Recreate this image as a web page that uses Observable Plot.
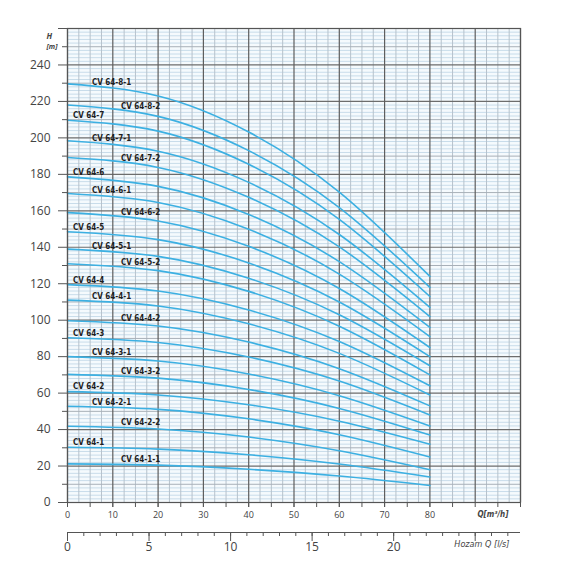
<!DOCTYPE html>
<html><head><meta charset="utf-8">
<script src="https://cdn.jsdelivr.net/npm/d3@7"></script>
<script src="https://cdn.jsdelivr.net/npm/@observablehq/plot@0.6"></script>
<style>
body{margin:0;background:#fff}
#chart{width:570px;height:570px}
</style>
</head><body><div id="chart"></div>
<script>
// Flow points (m³/h) at which heads were read
const flowPoints = [0, 20, 40, 60, 80];
const pumpNames = [
  "CV 64-8-1","CV 64-8-2","CV 64-7","CV 64-7-1","CV 64-7-2","CV 64-6","CV 64-6-1","CV 64-6-2",
  "CV 64-5","CV 64-5-1","CV 64-5-2","CV 64-4","CV 64-4-1","CV 64-4-2","CV 64-3","CV 64-3-1",
  "CV 64-3-2","CV 64-2","CV 64-2-1","CV 64-2-2","CV 64-1","CV 64-1-1"
];
// Head H (m) per pump at flowPoints
const headValues = [
  [229.6, 223.0, 203.2, 170.2, 124],
  [218.0, 211.8, 193.0, 161.8, 118],
  [209.7, 203.7, 185.5, 155.3, 113],
  [198.4, 192.7, 175.6, 147.0, 107],
  [189.2, 183.8, 167.4, 140.2, 102],
  [178.6, 173.4, 158.0, 132.1, 96],
  [169.5, 164.6, 149.9, 125.3, 91],
  [159.0, 154.4, 140.5, 117.4, 85],
  [148.5, 144.2, 131.4, 110.0, 80],
  [139.0, 135.0, 123.0, 103.0, 75],
  [131.0, 127.2, 115.8, 96.7, 70],
  [119.5, 116.0, 105.6, 88.3, 64],
  [111.0, 107.8, 98.0, 81.8, 59],
  [99.7, 96.8, 88.0, 73.4, 53],
  [90.4, 87.8, 79.8, 66.6, 48],
  [80.0, 77.6, 70.5, 58.6, 42],
  [70.3, 68.2, 62.0, 51.6, 37],
  [60.8, 59.0, 53.6, 44.6, 32],
  [52.8, 51.1, 45.9, 37.2, 25],
  [41.8, 40.3, 35.9, 28.4, 18],
  [30.3, 29.3, 26.2, 21.1, 14],
  [21.2, 20.5, 18.2, 14.5, 9.3]
];
// Tick labels
const yTickLabels = [0,20,40,60,80,100,120,140,160,180,200,220,240];
const qTickLabels = [0,10,20,30,40,50,60,70,80];
const lsTickLabels = [0,5,10,15,20];

// ---- build ----
const rows = [];
pumpNames.forEach((name, i) => flowPoints.forEach((q, j) => rows.push({pump: name, q, h: headValues[i][j]})));

const colQ = [1.2, 5.4, 11.8];
function colFor(name) {
  if (name === "CV 64-1-1") return 2;
  const parts = name.split("-");
  if (parts.length === 2) return 0;
  return parts[2] === "1" ? 1 : 2;
}
function headAt(i, q) {
  const h = headValues[i];
  for (let j = 0; j < flowPoints.length - 1; j++) {
    if (q >= flowPoints[j] && q <= flowPoints[j+1]) {
      const t = (q - flowPoints[j]) / (flowPoints[j+1] - flowPoints[j]);
      return h[j] + t * (h[j+1] - h[j]);
    }
  }
  return h[h.length-1];
}
const labelRows = pumpNames.map((name, i) => {
  const q = colQ[colFor(name)];
  return {name, q, h: headAt(i, q)};
});

const vMinor = d3.range(0, 100.01, 2.5).filter(v => v % 10 !== 0);
const vMajor = d3.range(0, 100.01, 10);
const hMinor = d3.range(0, 260.01, 2).filter(v => v % 10 !== 0);
const hMid = d3.range(10, 260, 20);
const hMajor = d3.range(0, 260.01, 20);
const yMajorTicks = d3.range(0, 260.01, 20);
const yMinorTicks = d3.range(10, 260, 20);
const qTicks = d3.range(0, 100.01, 5);
const lsMinor = d3.range(0, 27.5, 1);
const lsMajor = [0,5,10,15,20,25];
const toQ = v => v * 3.6;

const font = "'Open Sans', 'Liberation Sans', sans-serif";
const condensed = "'Liberation Sans Narrow', 'DejaVu Sans Condensed', 'Liberation Sans', sans-serif";

const chart = Plot.plot({
  width: 570, height: 570,
  marginLeft: 67, marginRight: 50, marginTop: 28, marginBottom: 68,
  x: {domain: [0, 100], label: null},
  y: {domain: [0, 260], label: null},
  style: {fontFamily: font, background: "white", color: "#444"},
  marks: [
    Plot.frame({fill: "#f5fafd", stroke: null}),
    Plot.ruleY(hMinor, {stroke: "#c8dcea", strokeWidth: 1}),
    Plot.ruleX(vMinor, {stroke: "#b6c2cc", strokeWidth: 1}),
    Plot.ruleY(hMid, {stroke: "#a8b0b8", strokeWidth: 1}),
    Plot.ruleY(hMajor, {stroke: "#6d6d6d", strokeWidth: 1.2}),
    Plot.ruleX(vMajor, {stroke: "#5e5e5e", strokeWidth: 1.2}),
    Plot.line(rows, {x: "q", y: "h", z: "pump", curve: "natural", stroke: "#3cb0e2", strokeWidth: 1.6}),
    Plot.text(labelRows, {x: "q", y: "h", text: "name", textAnchor: "start", lineAnchor: "middle", dy: -5,
      fontSize: 8, fontWeight: "bold", fontFamily: condensed, fill: "#1e1e1e"}),
    Plot.frame({stroke: "#555", strokeWidth: 1.2}),
    // left axis
    Plot.axisY(yMajorTicks, {anchor: "left", label: null, tickSize: 9, tickPadding: 8, fontSize: 12,
      stroke: "#555", fill: "#444", tickFormat: d => d <= 240 ? String(d) : ""}),
    Plot.axisY(yMinorTicks, {anchor: "left", label: null, tickSize: 5, stroke: "#555", tickFormat: () => ""}),
    // bottom axis m3/h
    Plot.axisX(qTicks, {anchor: "bottom", label: null, tickSize: 5, stroke: "#555", tickFormat: () => ""}),
    Plot.axisX(qTickLabels, {anchor: "bottom", label: null, tickSize: 5, tickPadding: 4, fontSize: 9, stroke: "#555", fill: "#444"}),
    // second axis l/s
    Plot.ruleY([0], {dy: 30, stroke: "#555", strokeWidth: 1.2}),
    Plot.axisX(lsMinor.map(toQ), {anchor: "bottom", label: null, tickSize: 4, dy: 30, stroke: "#555", tickFormat: () => ""}),
    Plot.axisX(lsMajor.map(toQ), {anchor: "bottom", label: null, tickSize: 9, tickPadding: 1, dy: 30, fontSize: 12,
      stroke: "#555", fill: "#444", tickFormat: d => { const v = Math.round(d / 3.6); return lsTickLabels.includes(v) ? String(v) : ""; }}),
    // axis titles
    Plot.text(["H"], {frameAnchor: "top-left", dx: -21, dy: 5, fontSize: 8, fontStyle: "italic", fontWeight: "bold", fill: "#444"}),
    Plot.text(["[m]"], {frameAnchor: "top-left", dx: -21, dy: 16, fontSize: 7, fontStyle: "italic", fontWeight: "bold", fill: "#444"}),
    Plot.text(["Q[m³/h]"], {frameAnchor: "bottom-right", dx: -12, dy: 14, fontSize: 8, fontStyle: "italic", fontWeight: "bold", fill: "#444", fontFamily: condensed}),
    Plot.text(["Hozam Q [l/s]"], {frameAnchor: "bottom-right", dx: -11, dy: 44, fontSize: 9, fontStyle: "italic", fill: "#444", fontFamily: condensed})
  ]
});
document.getElementById("chart").appendChild(chart);
</script>
</body></html>
